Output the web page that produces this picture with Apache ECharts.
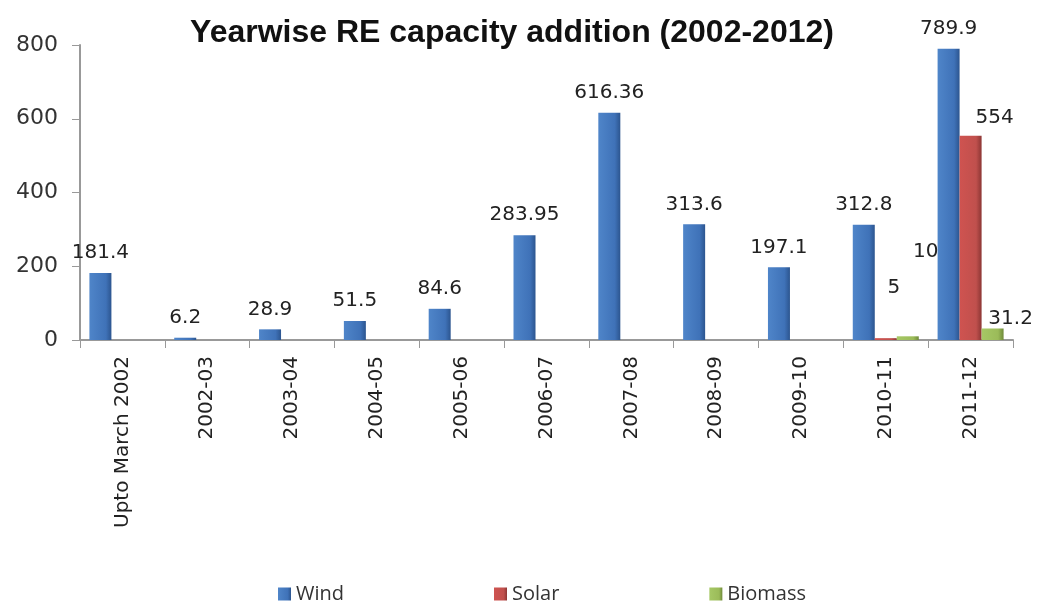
<!DOCTYPE html>
<html>
<head>
<meta charset="utf-8">
<script src="https://cdn.jsdelivr.net/npm/echarts@6/dist/echarts.min.js"></script>
<style>html,body{margin:0;padding:0;background:#fff}#c{width:1046px;height:615px}</style>
</head>
<body>
<div id="c"></div>
<script>
const categories = ['Upto March 2002','2002-03','2003-04','2004-05','2005-06','2006-07','2007-08','2008-09','2009-10','2010-11','2011-12'];
const wind = [181.4, 6.2, 28.9, 51.5, 84.6, 283.95, 616.36, 313.6, 197.1, 312.8, 789.9];
const solar = [null, null, null, null, null, null, null, null, null, 5, 554];
const biomass = [null, null, null, null, null, null, null, null, null, 10, 31.2];
const yTicks = [0, 200, 400, 600, 800];

const chart = echarts.init(document.getElementById('c'));
const labelBase = {show: true, position: 'top', fontSize: 20, color: '#222', fontFamily: 'DejaVu Sans', distance: 10};
function withOffsets(arr, offsets) {
  return arr.map((v, i) => offsets[i] ? {value: v, label: {offset: offsets[i]}} : v);
}
chart.setOption({
  animation: false,
  title: {
    text: 'Yearwise RE capacity addition (2002-2012)',
    left: 507, top: 12, textAlign: 'center',
    textStyle: {fontFamily: 'Liberation Sans', fontWeight: 'bold', fontSize: 32, color: '#111'}
  },
  legend: {
    bottom: 6, left: 273, itemGap: 150, itemWidth: 13, itemHeight: 13,
    icon: 'rect',
    textStyle: {fontSize: 20, color: '#333', fontFamily: 'Open Sans'},
    data: ['Wind', 'Solar', 'Biomass']
  },
  grid: {left: 80, right: 33, top: 45, bottom: 275},
  xAxis: {
    type: 'category', data: categories,
    axisLine: {lineStyle: {color: '#999', width: 2}},
    axisTick: {show: true, lineStyle: {color: '#999'}, length: 8},
    axisLabel: {rotate: 90, fontSize: 20, color: '#222', fontFamily: 'DejaVu Sans', interval: 0, margin: 16}
  },
  yAxis: {
    type: 'value', min: 0, max: 800, interval: 200,
    axisLine: {show: true, lineStyle: {color: '#999', width: 2}},
    axisTick: {show: true, inside: false, length: 8, lineStyle: {color: '#999'}},
    splitLine: {show: false},
    axisLabel: {fontSize: 22, color: '#333', fontFamily: 'DejaVu Sans', margin: 22,
      formatter: v => yTicks.includes(v) ? String(v) : ''}
  },
  series: [
    {name: 'Wind', type: 'bar', data: wind, barWidth: 22, barGap: '0%',
      itemStyle: {color: new echarts.graphic.LinearGradient(0,0,1,0,[{offset:0,color:'#4f85c9'},{offset:0.75,color:'#3f72b8'},{offset:1,color:'#2c558f'}])},
      label: labelBase},
    {name: 'Solar', type: 'bar', data: withOffsets(solar, {9: [8, -30], 10: [24, 2]}), barWidth: 22,
      itemStyle: {color: new echarts.graphic.LinearGradient(0,0,1,0,[{offset:0,color:'#cf5350'},{offset:0.75,color:'#c0504d'},{offset:1,color:'#8c3634'}])},
      label: labelBase},
    {name: 'Biomass', type: 'bar', data: withOffsets(biomass, {9: [18, -65], 10: [18, 10]}), barWidth: 22,
      itemStyle: {color: new echarts.graphic.LinearGradient(0,0,1,0,[{offset:0,color:'#a6c865'},{offset:0.75,color:'#9bbb59'},{offset:1,color:'#6f8a3a'}])},
      label: labelBase}
  ]
});
</script>
</body>
</html>
